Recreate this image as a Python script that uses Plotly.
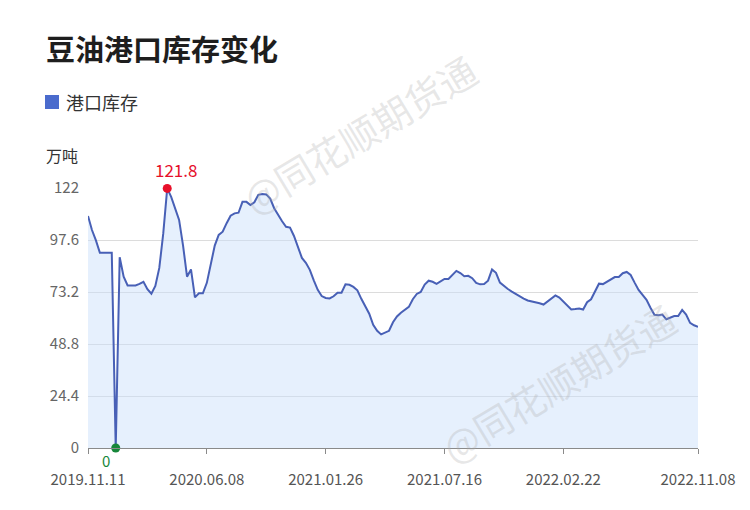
import plotly.graph_objects as go

# ---- data ----
inventory = [
    108.9, 102.3, 97.4, 91.6, 91.6, 91.6, 91.6, 0.0, 89.5, 80.4,
    76.3, 76.3, 76.3, 77.0, 78.0, 74.5, 72.4, 76.0, 84.5, 100.7,
    121.8, 117.8, 112.5, 107.0, 95.0, 80.4, 83.8, 70.7, 72.6, 72.6,
    77.5, 86.0, 95.0, 100.0, 101.5, 105.5, 109.0, 110.1, 110.4, 115.5,
    115.5, 114.0, 115.3, 118.8, 119.2, 119.0, 117.0, 112.5, 109.3, 106.4,
    103.8, 103.4, 99.5, 94.0, 89.2, 86.9, 83.6, 78.7, 74.2, 71.3,
    70.4, 70.2, 71.2, 72.9, 72.9, 76.8, 76.6, 75.6, 74.0, 70.0,
    66.6, 63.0, 57.8, 55.0, 53.3, 54.3, 55.0, 59.0, 61.7, 63.5,
    64.7, 66.2, 69.8, 72.3, 73.2, 76.7, 78.5, 78.0, 77.0, 78.3,
    79.3, 79.3, 81.0, 83.1, 82.1, 80.6, 80.8, 79.7, 77.5, 76.8,
    76.9, 78.5, 83.8, 82.2, 77.6, 76.0, 74.6, 73.4, 72.3, 71.0,
    70.1, 69.2, 68.8, 68.5, 67.9, 67.3, 68.7, 70.4, 71.6, 70.6,
    68.6, 66.8, 65.0, 65.2, 65.5, 65.0, 68.4, 69.8, 73.8, 77.1,
    76.9, 78.0, 79.3, 80.2, 80.2, 82.0, 82.6, 81.2, 77.6, 74.2,
    71.8, 69.5, 65.8, 62.5, 62.3, 62.6, 60.4, 61.2, 61.9, 61.9,
    64.8, 62.6, 58.7, 57.6, 56.8,
]
point_index = list(range(len(inventory)))

date_tick_index = [0, 30, 60, 90, 120, 154]
date_tick_labels = ["2019.11.11", "2020.06.08", "2021.01.26",
                    "2021.07.16", "2022.02.22", "2022.11.08"]

y_tick_vals = [0, 24.4, 48.8, 73.2, 97.6, 122]
y_tick_text = ["0", "24.4", "48.8", "73.2", "97.6", "122"]

series_name = "港口库存"
title_text = "豆油港口库存变化"
unit_text = "万吨"
watermark = "@同花顺期货通"

# ---- layout geometry ----
W, H = 750, 510
L, R, T, B = 88, 52, 188, 62
PW, PH = W - L - R, H - T - B


def px(x):
    return (x - L) / PW


def py(y):
    return (H - B - y) / PH


FONT = "Noto Sans CJK SC, Noto Sans, sans-serif"
LINE = "#4860b6"

imax = max(point_index, key=lambda i: inventory[i])
imin = min(point_index, key=lambda i: inventory[i])

fig = go.Figure()
fig.add_trace(go.Scatter(
    x=point_index, y=inventory, mode="lines", name=series_name,
    line=dict(color=LINE, width=2), fill="tozeroy",
    fillcolor="rgba(200,221,250,0.45)",
    showlegend=False, hoverinfo="y",
))
fig.add_trace(go.Scatter(
    x=[point_index[imax]], y=[inventory[imax]], mode="markers",
    marker=dict(color="#e8102a", size=9), showlegend=False, cliponaxis=False,
))
fig.add_trace(go.Scatter(
    x=[point_index[imin]], y=[inventory[imin]], mode="markers",
    marker=dict(color="#17873a", size=9), showlegend=False, cliponaxis=False,
))

annotations = [
    dict(text="<b>" + title_text + "</b>", x=px(44), y=py(48), xref="paper", yref="paper",
         xanchor="left", yanchor="middle", showarrow=False,
         font=dict(family=FONT, size=29, color="#1e1e1e")),
    dict(text=series_name, x=px(64), y=py(102), xref="paper", yref="paper",
         xanchor="left", yanchor="middle", showarrow=False,
         font=dict(family=FONT, size=18, color="#333333")),
    dict(text=unit_text, x=px(44), y=py(155), xref="paper", yref="paper",
         xanchor="left", yanchor="middle", showarrow=False,
         font=dict(family=FONT, size=16, color="#333333")),
    dict(text=f"{inventory[imax]:.1f}", x=point_index[imax], y=inventory[imax],
         xref="x", yref="y", xanchor="center", yanchor="bottom", showarrow=False,
         xshift=9, yshift=4, font=dict(family=FONT, size=17, color="#e60f2a")),
    dict(text=f"{inventory[imin]:.0f}", x=point_index[imin], y=inventory[imin],
         xref="x", yref="y", xanchor="center", yanchor="middle", showarrow=False,
         xshift=-10, yshift=-12, font=dict(family=FONT, size=15, color="#17873a")),
    dict(text=watermark, x=px(359), y=py(133), xref="paper", yref="paper",
         xanchor="center", yanchor="middle", showarrow=False, textangle=-31,
         font=dict(family=FONT, size=38, color="rgba(170,170,170,0.28)")),
    dict(text=watermark, x=px(558), y=py(382), xref="paper", yref="paper",
         xanchor="center", yanchor="middle", showarrow=False, textangle=-31,
         font=dict(family=FONT, size=38, color="rgba(170,170,170,0.28)")),
]

shapes = [
    dict(type="rect", xref="paper", yref="paper",
         x0=px(45), x1=px(59), y0=py(109), y1=py(95),
         fillcolor="#4a6bcd", line=dict(width=0)),
]

fig.update_layout(
    width=W, height=H,
    margin=dict(l=L, r=R, t=T, b=B),
    paper_bgcolor="white", plot_bgcolor="white",
    font=dict(family=FONT),
    annotations=annotations, shapes=shapes,
    showlegend=False,
    xaxis=dict(
        type="linear", range=[0, len(inventory) - 1],
        tickmode="array", tickvals=date_tick_index, ticktext=date_tick_labels,
        showgrid=False, zeroline=False,
        showline=True, linecolor="#8a8a8a", linewidth=1,
        ticks="outside", ticklen=5, tickcolor="#8a8a8a",
        ticklabelstandoff=13,
        tickfont=dict(family=FONT, size=15, color="#555555"),
    ),
    yaxis=dict(
        range=[0, 122],
        tickmode="array", tickvals=y_tick_vals, ticktext=y_tick_text,
        showgrid=True, gridcolor="#dcdcdc", gridwidth=1,
        zeroline=False, showline=False,
        ticks="outside", ticklen=5, tickcolor="rgba(0,0,0,0)",
        tickfont=dict(family=FONT, size=15, color="#666666"),
    ),
)

fig.write_html("out.html", config={"displayModeBar": False},
               post_script="document.body.style.margin='0';")
